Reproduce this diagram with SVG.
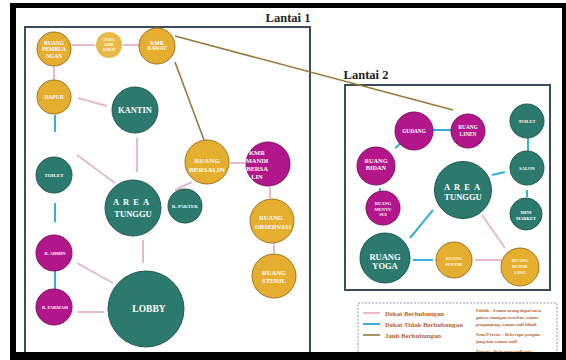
<svg xmlns="http://www.w3.org/2000/svg" width="566" height="360" viewBox="0 0 566 360">
<style>
.y{fill:#e6ae2f;stroke:#9c7420;stroke-width:1}
.ys{fill:#e9b948}
.t{fill:#2c7a6d;stroke:#1f5a50;stroke-width:1}
.m{fill:#b3168b;stroke:#7d0f61;stroke-width:1}
.lb{font-family:"Liberation Serif","Times New Roman",serif;font-weight:bold;fill:#ffffff;text-anchor:middle}
.pk{stroke:#e6b9cb;stroke-width:2;fill:none}
.bl{stroke:#36b0da;stroke-width:2;fill:none}
.br{stroke:#9a7838;stroke-width:1.6;fill:none}
.box{fill:none;stroke:#3c4c5d;stroke-width:2}
.ttl{font-family:"Liberation Serif","Times New Roman",serif;font-weight:bold;fill:#222;font-size:12.5px}
.lg{font-family:"Liberation Serif","Times New Roman",serif;font-weight:bold;fill:#b8652e}
</style>
<rect width="566" height="360" fill="#ffffff"/>
<rect class="box" x="25" y="27" width="285" height="335"/>
<rect class="box" x="345" y="85" width="205" height="205"/>
<text class="ttl" x="288" y="22" text-anchor="middle">Lantai 1</text>
<text class="ttl" x="366" y="79" text-anchor="middle">Lantai 2</text>

<g id="connectors">
<line class="pk" x1="72" y1="45" x2="95" y2="45"/>
<line class="pk" x1="123" y1="45" x2="139" y2="45"/>
<line class="pk" x1="54" y1="67" x2="54" y2="80"/>
<line class="pk" x1="78" y1="98" x2="107" y2="106"/>
<line class="bl" x1="55" y1="115" x2="55" y2="132"/>
<line class="bl" x1="55" y1="203" x2="55" y2="222"/>
<line class="bl" x1="55" y1="271" x2="55" y2="289"/>
<line class="pk" x1="137" y1="138" x2="137" y2="172"/>
<line class="pk" x1="77" y1="155" x2="115" y2="183"/>
<line class="pk" x1="143" y1="240" x2="143" y2="263"/>
<line class="pk" x1="77" y1="263" x2="113" y2="283"/>
<line class="pk" x1="78" y1="312" x2="104" y2="312"/>
<line class="pk" x1="175" y1="190" x2="192" y2="182"/>
<line class="pk" x1="230" y1="163" x2="245" y2="163"/>
<line class="pk" x1="270" y1="187" x2="270" y2="198"/>
<line class="pk" x1="274" y1="243" x2="274" y2="253"/>
<line class="br" x1="175" y1="62" x2="204" y2="140"/>
<line class="br" x1="175" y1="36" x2="453" y2="110"/>
<line class="bl" x1="432" y1="130" x2="453" y2="130"/>
<line class="bl" x1="395" y1="148" x2="405" y2="140"/>
<line class="bl" x1="380" y1="188" x2="380" y2="200"/>
<line class="bl" x1="528" y1="138" x2="528" y2="158"/>
<line class="bl" x1="492" y1="175" x2="505" y2="172"/>
<line class="bl" x1="527" y1="190" x2="527" y2="197"/>
<line class="bl" x1="433" y1="210" x2="410" y2="238"/>
<line class="pk" x1="482" y1="215" x2="505" y2="248"/>
<line class="bl" x1="413" y1="260" x2="433" y2="260"/>
<line class="pk" x1="475" y1="260" x2="502" y2="260"/>
</g>

<g id="ruang-pembuangan"><circle class="y" cx="54" cy="49" r="17"/>
<text class="lb" font-size="5.5" x="54" y="45">RUANG</text><text class="lb" font-size="5.5" x="54" y="51">PEMBUA</text><text class="lb" font-size="5.5" x="54" y="58">NGAN</text></g>
<g id="spoel-kmr-rawat"><circle class="ys" cx="109" cy="45" r="13"/>
<text class="lb" font-size="3.6" x="109" y="41">SPOEL</text><text class="lb" font-size="3.6" x="109" y="46">KMR</text><text class="lb" font-size="3.6" x="109" y="51">RAWAT</text></g>
<g id="kmr-rawat"><circle class="y" cx="157" cy="46" r="18"/>
<text class="lb" font-size="5.5" x="157" y="45">KMR</text><text class="lb" font-size="5.5" x="157" y="50">RAWAT</text></g>
<g id="dapur"><circle class="y" cx="54" cy="97" r="17"/>
<text class="lb" font-size="5.5" x="54" y="99">DAPUR</text></g>
<g id="kantin"><circle class="t" cx="135" cy="110" r="23"/>
<text class="lb" font-size="8.5" x="135" y="113">KANTIN</text></g>
<g id="toilet-1"><circle class="t" cx="54" cy="175" r="18"/>
<text class="lb" font-size="5" x="54" y="177">TOILET</text></g>
<g id="area-tunggu-1"><circle class="t" cx="133" cy="208" r="28"/>
<text class="lb" font-size="8.5" x="133" y="205" letter-spacing="4">AREA</text><text class="lb" font-size="8.5" x="133" y="217">TUNGGU</text></g>
<g id="r-paktek"><circle class="t" cx="185" cy="206" r="17"/>
<text class="lb" font-size="4.8" x="185" y="208">R. PAKTEK</text></g>
<g id="r-admin"><circle class="m" cx="54" cy="253" r="18"/>
<text class="lb" font-size="4.5" x="55" y="255">R. ADMIN</text></g>
<g id="r-farmasi"><circle class="m" cx="54" cy="307" r="18"/>
<text class="lb" font-size="4.5" x="55" y="309">R. FARMASI</text></g>
<g id="lobby"><circle class="t" cx="146" cy="309" r="38"/>
<text class="lb" font-size="9.5" x="149" y="312">LOBBY</text></g>
<g id="ruang-bersalin"><circle class="y" cx="207" cy="162" r="22"/>
<text class="lb" font-size="7" x="207" y="163">RUANG</text><text class="lb" font-size="7" x="207" y="172">BERSALIN</text></g>
<g id="kmr-mandi-bersalin"><circle class="m" cx="268" cy="164" r="22"/>
<text class="lb" font-size="6.5" x="257" y="155" text-anchor="start">KMR</text><text class="lb" font-size="6.5" x="257" y="163" text-anchor="start">MANDI</text><text class="lb" font-size="6.5" x="257" y="171" text-anchor="start">BERSA</text><text class="lb" font-size="6.5" x="257" y="179" text-anchor="start">LIN</text></g>
<g id="ruang-observasi"><circle class="y" cx="272" cy="221" r="22"/>
<text class="lb" font-size="6.5" x="271" y="220">RUANG</text><text class="lb" font-size="6.5" x="273" y="229">OBSERVASI</text></g>
<g id="ruang-steril"><circle class="y" cx="274" cy="276" r="22"/>
<text class="lb" font-size="6.5" x="274" y="275">RUANG</text><text class="lb" font-size="6.5" x="274" y="283">STERIL</text></g>

<g id="gudang"><circle class="m" cx="414" cy="131" r="19"/>
<text class="lb" font-size="5.3" x="414" y="133">GUDANG</text></g>
<g id="ruang-linen"><circle class="m" cx="468" cy="131" r="17"/>
<text class="lb" font-size="5.3" x="468" y="129">RUANG</text><text class="lb" font-size="5.3" x="468" y="136">LINEN</text></g>
<g id="toilet-2"><circle class="t" cx="527" cy="121" r="17"/>
<text class="lb" font-size="4.5" x="527" y="123">TOILET</text></g>
<g id="salon"><circle class="t" cx="527" cy="168" r="17"/>
<text class="lb" font-size="4.5" x="527" y="170">SALON</text></g>
<g id="ruang-bidan"><circle class="m" cx="376" cy="166" r="19"/>
<text class="lb" font-size="6.3" x="376" y="162.5">RUANG</text><text class="lb" font-size="6.3" x="376" y="170">BIDAN</text></g>
<g id="area-tunggu-2"><circle class="t" cx="463" cy="190" r="28.5"/>
<text class="lb" font-size="8.5" x="464" y="190" letter-spacing="4">AREA</text><text class="lb" font-size="8.5" x="463" y="200">TUNGGU</text></g>
<g id="mini-market"><circle class="t" cx="526" cy="214" r="16"/>
<text class="lb" font-size="4.5" x="526" y="214">MINI</text><text class="lb" font-size="4.5" x="526" y="220">MARKET</text></g>
<g id="ruang-menyusui"><circle class="m" cx="383" cy="208" r="17"/>
<text class="lb" font-size="4.5" x="383" y="205">RUANG</text><text class="lb" font-size="4.5" x="383" y="210.5">MENYU</text><text class="lb" font-size="4.5" x="383" y="216">SUI</text></g>
<g id="ruang-yoga"><circle class="t" cx="385" cy="258" r="25"/>
<text class="lb" font-size="8.5" x="385" y="260">RUANG</text><text class="lb" font-size="8.5" x="385" y="269">YOGA</text></g>
<g id="ruang-suntik"><circle class="y" cx="454" cy="260" r="18"/>
<text class="lb" font-size="4.5" x="454" y="260">RUANG</text><text class="lb" font-size="4.5" x="454" y="266">SUNTIK</text></g>
<g id="ruang-konseling"><circle class="y" cx="520" cy="267" r="19"/>
<text class="lb" font-size="4.5" x="520" y="262">RUANG</text><text class="lb" font-size="4.5" x="520" y="268">KONSE</text><text class="lb" font-size="4.5" x="520" y="274">LING</text></g>

<g id="legend">
<rect x="358" y="303" width="199" height="60" fill="none" stroke="#8c9aa8" stroke-width="1" stroke-dasharray="2,1.5"/>
<line class="pk" x1="363" y1="313" x2="380" y2="313"/>
<line class="bl" x1="363" y1="324" x2="380" y2="324"/>
<line class="br" x1="363" y1="335" x2="380" y2="335" stroke-width="2"/>
<text class="lg" font-size="6.8" x="385" y="316">Dekat Berhubungan</text>
<text class="lg" font-size="6.8" x="385" y="327">Dekat Tidak Berhubungan</text>
<text class="lg" font-size="6.8" x="385" y="338">Jauh Berhubungan</text>
<text class="lg" font-size="4.6" x="476" y="312">Publik : Semua orang dapat men-</text>
<text class="lg" font-size="4.6" x="476" y="319">gakses ruangan tersebut, semua</text>
<text class="lg" font-size="4.6" x="476" y="326">pengunjung, semua staff klinik</text>
<text class="lg" font-size="4.6" x="476" y="336">Semi Private : Beberapa pengun-</text>
<text class="lg" font-size="4.6" x="476" y="343">jung dan semua staff</text>
<text class="lg" font-size="4.6" x="476" y="353">Private : Beberapa staff saja</text>
</g>

<path d="M10 3H566V360H10Z M16 8V352H562V8Z" fill="#000000" fill-rule="evenodd"/>
</svg>
